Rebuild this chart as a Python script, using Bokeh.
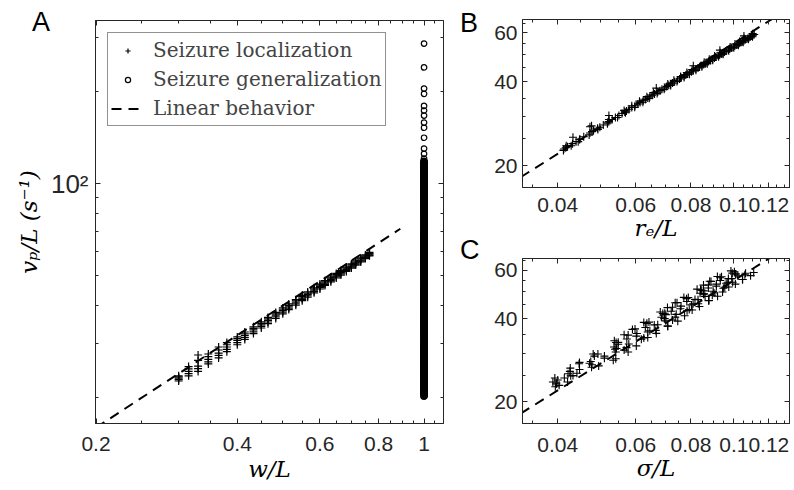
from bokeh.plotting import figure
from bokeh.layouts import row, column
from bokeh.models import (FixedTicker, PrintfTickFormatter, CustomJSTickFormatter,
                          LogAxis, Legend, LegendItem, Div)
from bokeh.embed import file_html
from bokeh.resources import INLINE

# ---------------- data ----------------
# Seizure localization: w/L, v_p/L, r_e/L, sigma/L (one entry per simulation)
loc_w = [0.300, 0.300, 0.300, 0.315, 0.315, 0.315, 0.330, 0.330, 0.330,
         0.347, 0.347, 0.347, 0.365, 0.365, 0.365, 0.380, 0.380, 0.380,
         0.400, 0.400, 0.400, 0.415, 0.415, 0.415, 0.433, 0.433, 0.433,
         0.450, 0.450, 0.450, 0.465, 0.465, 0.465, 0.483, 0.483, 0.483,
         0.500, 0.500, 0.500, 0.515, 0.515, 0.515, 0.533, 0.533, 0.533,
         0.550, 0.550, 0.550, 0.565, 0.565, 0.565, 0.583, 0.583, 0.583,
         0.600, 0.600, 0.600, 0.615, 0.615, 0.615, 0.633, 0.633, 0.633,
         0.650, 0.650, 0.650, 0.665, 0.665, 0.665, 0.683, 0.683, 0.683,
         0.700, 0.700, 0.700, 0.715, 0.715, 0.715, 0.733, 0.733, 0.733,
         0.750, 0.750, 0.750, 0.765, 0.765, 0.765,
         0.300, 0.315, 0.330, 0.347, 0.365, 0.380, 0.400, 0.415, 0.433, 0.450,
         0.465, 0.483, 0.500, 0.515, 0.533, 0.550, 0.565, 0.583, 0.600, 0.615,
         0.633, 0.650, 0.665, 0.683, 0.700, 0.715, 0.733, 0.750, 0.765,
         0.300, 0.315, 0.330, 0.347, 0.365, 0.380, 0.400, 0.415, 0.433, 0.450,
         0.465, 0.483, 0.500, 0.515, 0.533, 0.550, 0.565, 0.583, 0.600, 0.615,
         0.633, 0.650, 0.665, 0.683, 0.700, 0.715, 0.733, 0.750, 0.765]
loc_v = [22.7, 23.2, 23.6, 23.6, 24.4, 25.3, 24.4, 25.4, 27.6,
         25.8, 26.7, 27.8, 27.0, 28.0, 29.3, 28.3, 29.3, 30.3,
         29.8, 30.8, 31.6, 31.0, 31.9, 32.8, 32.4, 33.3, 34.1,
         33.8, 34.6, 35.4, 34.9, 35.8, 36.6, 36.3, 37.2, 38.0,
         37.6, 38.5, 39.3, 38.8, 39.6, 40.5, 40.1, 41.0, 41.8,
         41.5, 42.3, 43.2, 42.6, 43.5, 44.3, 44.0, 44.9, 45.7,
         45.3, 46.2, 47.0, 46.5, 47.3, 48.2, 47.8, 48.7, 49.5,
         49.2, 50.0, 50.9, 50.3, 51.2, 52.0, 51.7, 52.5, 53.4,
         53.0, 53.8, 54.7, 54.2, 55.0, 55.9, 55.5, 56.3, 57.2,
         56.9, 57.7, 58.5, 58.1, 58.8, 59.6,
         22.95, 24.0, 24.9, 26.2, 27.5, 28.8, 30.3, 31.45, 32.85, 34.2,
         35.35, 36.75, 38.05, 39.2, 40.55, 41.9, 43.05, 44.45, 45.75, 46.9,
         48.25, 49.6, 50.75, 52.1, 53.4, 54.6, 55.9, 57.3, 58.45,
         23.4, 24.85, 26.5, 27.25, 28.65, 29.8, 31.2, 32.35, 33.7, 35.0,
         36.2, 37.6, 38.9, 40.05, 41.4, 42.75, 43.9, 45.3, 46.6, 47.75,
         49.1, 50.45, 51.6, 52.95, 54.25, 55.45, 56.75, 58.1, 59.2]
loc_re = [0.0412, 0.0417, 0.0418, 0.0429, 0.0440, 0.0433, 0.0445, 0.0458, 0.0473,
          0.0471, 0.0482, 0.0477, 0.0493, 0.0507, 0.0522, 0.0518, 0.0531, 0.0522,
          0.0546, 0.0559, 0.0565, 0.0569, 0.0580, 0.0588, 0.0597, 0.0607, 0.0612,
          0.0623, 0.0631, 0.0636, 0.0644, 0.0654, 0.0658, 0.0671, 0.0681, 0.0668,
          0.0696, 0.0705, 0.0709, 0.0720, 0.0727, 0.0732, 0.0744, 0.0754, 0.0758,
          0.0772, 0.0779, 0.0783, 0.0794, 0.0802, 0.0805, 0.0821, 0.0830, 0.0810,
          0.0847, 0.0855, 0.0857, 0.0871, 0.0877, 0.0880, 0.0896, 0.0904, 0.0905,
          0.0924, 0.0929, 0.0932, 0.0946, 0.0953, 0.0930, 0.0974, 0.0979, 0.0981,
          0.1000, 0.1005, 0.1006, 0.1024, 0.1029, 0.1030, 0.1050, 0.1055, 0.1055,
          0.1079, 0.1083, 0.1054, 0.1102, 0.1105, 0.1103,
          0.0413, 0.0432, 0.0449, 0.0473, 0.0498, 0.0522, 0.0550, 0.0572, 0.0598,
          0.0624, 0.0646, 0.0673, 0.0698, 0.0720, 0.0746, 0.0772, 0.0794, 0.0821,
          0.0847, 0.0869, 0.0896, 0.0922, 0.0945, 0.0972, 0.0997, 0.1021, 0.1047,
          0.1075, 0.1098,
          0.0421, 0.0448, 0.0478, 0.0492, 0.0519, 0.0540, 0.0567, 0.0588, 0.0614,
          0.0639, 0.0662, 0.0688, 0.0713, 0.0735, 0.0761, 0.0787, 0.0810, 0.0837,
          0.0862, 0.0885, 0.0911, 0.0938, 0.0961, 0.0987, 0.1013, 0.1037, 0.1063,
          0.1090, 0.1112]
loc_sigma = [0.0395, 0.0397, 0.0390, 0.0421, 0.0394, 0.0422, 0.0414, 0.0442, 0.0472,
             0.0426, 0.0477, 0.0448, 0.0495, 0.0475, 0.0510, 0.0534, 0.0484, 0.0541,
             0.0481, 0.0565, 0.0536, 0.0539, 0.0602, 0.0542, 0.0579, 0.0537, 0.0626,
             0.0573, 0.0602, 0.0668, 0.0577, 0.0639, 0.0590, 0.0666, 0.0631, 0.0661,
             0.0709, 0.0636, 0.0702, 0.0626, 0.0727, 0.0686, 0.0697, 0.0774, 0.0691,
             0.0741, 0.0682, 0.0793, 0.0722, 0.0757, 0.0836, 0.0727, 0.0802, 0.0737,
             0.0831, 0.0783, 0.0817, 0.0877, 0.0782, 0.0861, 0.0771, 0.0894, 0.0839,
             0.0856, 0.0943, 0.0841, 0.0898, 0.0826, 0.0954, 0.0876, 0.0913, 0.1008,
             0.0876, 0.0961, 0.0882, 0.0994, 0.0932, 0.0972, 0.1047, 0.0931, 0.1021,
             0.0918, 0.1059, 0.0992, 0.1010, 0.1109, 0.0985,
             0.0403, 0.0400, 0.0433, 0.0448, 0.0447, 0.0510, 0.0577, 0.0572, 0.0548,
             0.0639, 0.0604, 0.0598, 0.0673, 0.0747, 0.0737, 0.0698, 0.0805, 0.0760,
             0.0744, 0.0830, 0.0919, 0.0902, 0.0846, 0.0974, 0.0913, 0.0888, 0.0989,
             0.1091, 0.1063,
             0.0397, 0.0428, 0.0427, 0.0478, 0.0541, 0.0493, 0.0543, 0.0548, 0.0618,
             0.0565, 0.0646, 0.0709, 0.0643, 0.0697, 0.0702, 0.0784, 0.0708, 0.0809,
             0.0879, 0.0789, 0.0854, 0.0855, 0.0947, 0.0854, 0.0969, 0.1046, 0.0938,
             0.1010, 0.1003]

# Seizure generalization: all at w/L = 1 (dense band and sparse upper tail)
gen_v_dense = [20.3, 20.55, 20.8, 21.05, 21.3, 21.55, 21.8, 22.05, 22.3, 22.55, 22.8,
               23.05, 23.3, 23.55, 23.8, 24.05, 24.3, 24.55, 24.8, 25.05, 25.3, 25.55,
               25.8, 26.05, 26.3, 26.55, 26.8, 27.05, 27.3, 27.55, 27.8, 28.05, 28.3,
               28.55, 28.8, 29.05, 29.3, 29.55, 29.8,
               30.1, 30.5, 30.9, 31.3, 31.7, 32.1, 32.5, 32.9, 33.3, 33.7, 34.1, 34.5,
               34.9, 35.3, 35.7, 36.1, 36.5, 36.9, 37.3, 37.7, 38.1, 38.5, 38.9, 39.3,
               39.7, 40.1, 40.5, 40.9, 41.3, 41.7, 42.1, 42.5, 42.9, 43.3, 43.7, 44.1,
               44.5, 44.9,
               45.4, 46.0, 46.6, 47.2, 47.8, 48.4, 49.0, 49.6, 50.2, 50.8, 51.4, 52.0,
               52.6, 53.2, 53.8, 54.4, 55.0, 55.6, 56.2, 56.8, 57.4, 58.0, 58.6, 59.2,
               59.8, 60.4, 61.0, 61.6, 62.2, 62.8, 63.4, 64.0, 64.6, 65.2, 65.8, 66.4,
               67.0, 67.6, 68.2, 68.8, 69.4, 70.0,
               71, 72, 73, 74, 75, 76, 77, 78, 79, 80, 81, 82, 83, 84, 85, 86, 87, 88,
               89, 90, 91, 92, 93, 94, 95, 96, 97, 98, 99, 100, 101, 102, 103, 104,
               105, 106, 107, 108, 109, 110, 111, 112, 113, 114, 115, 116, 117, 118]
gen_v_sparse = [120.6, 125, 130, 141, 152, 158, 166.5, 173, 179, 196, 204, 239, 286]
gen_w_dense = [1.0] * len(gen_v_dense)
gen_w_sparse = [1.0] * len(gen_v_sparse)

# Linear behaviour (dashed reference lines)
lin_a_w = [0.2, 0.89]
lin_a_v = [16.0, 71.2]
lin_b_re = [0.033, 0.125]
lin_b_v = [18.2, 68.9]
lin_c_sigma = [0.033, 0.125]
lin_c_v = [18.15, 68.75]

# ticks
a_xticks = [0.2, 0.4, 0.6, 0.8, 1.0]
a_xminor = [0.25, 0.3, 0.35, 0.45, 0.5, 0.55, 0.65, 0.7, 0.75, 0.85, 0.9, 0.95, 1.05]
a_yticks = [100]
a_yminor = [20, 30, 40, 50, 60, 70, 80, 90, 200, 300]
bc_xticks = [0.04, 0.06, 0.08, 0.1, 0.12]
bc_xminor = [0.035, 0.045, 0.05, 0.055, 0.065, 0.07, 0.075, 0.085, 0.09, 0.095,
             0.105, 0.11, 0.115, 0.125, 0.13]
bc_yticks = [20, 40, 60]
bc_yminor = [25, 30, 35, 45, 50, 55, 65]

legend_labels = ["Seizure localization", "Seizure generalization", "Linear behavior"]
panel_letters = ["A", "B", "C"]

# ---------------- styling helpers ----------------
AX = "#262626"
SANS = "Liberation Sans"
SERIF = "DejaVu Serif"
DASH = "10 7"


def style_axis(ax, standoff, label_standoff, size="21px"):
    ax.axis_line_color = AX
    ax.axis_line_width = 1
    ax.major_tick_line_color = AX
    ax.minor_tick_line_color = AX
    ax.major_tick_in = 5
    ax.major_tick_out = 0
    ax.minor_tick_in = 3
    ax.minor_tick_out = 0
    ax.major_label_text_font = SANS
    ax.major_label_text_font_size = size
    ax.major_label_text_color = AX
    ax.major_label_standoff = standoff
    ax.axis_label_text_font = SERIF
    ax.axis_label_text_font_style = "italic"
    ax.axis_label_text_font_size = "23px"
    ax.axis_label_text_color = "black"
    ax.axis_label_standoff = label_standoff


def mirror(p, xt, yt):
    for side, ticker in (("above", xt), ("right", yt)):
        ax = LogAxis(ticker=ticker, formatter=CustomJSTickFormatter(code="return ''"))
        style_axis(ax, 0, 0)
        ax.major_label_text_font_size = "0px"
        p.add_layout(ax, side)


def base(p):
    p.xgrid.visible = False
    p.ygrid.visible = False
    p.outline_line_color = AX
    p.outline_line_width = 1
    p.background_fill_color = "white"
    p.border_fill_color = "white"


# ---------------- panel A ----------------
pA = figure(width=455, height=490, x_axis_type="log", y_axis_type="log",
            x_range=(0.1995, 1.1), y_range=(16.5, 340),
            output_backend="svg", toolbar_location=None,
            min_border_left=95, min_border_right=12, min_border_top=20,
            min_border_bottom=67)
base(pA)
axt = FixedTicker(ticks=a_xticks, minor_ticks=a_xminor)
ayt = FixedTicker(ticks=a_yticks, minor_ticks=a_yminor)
pA.xaxis.ticker = axt
pA.yaxis.ticker = ayt
pA.xaxis.formatter = PrintfTickFormatter(format="%g")
pA.yaxis.major_label_overrides = {100: "10\u00b2"}
for ax in pA.xaxis:
    style_axis(ax, 13, 2)
for ax in pA.yaxis:
    style_axis(ax, 7, 6, size="26px")
pA.xaxis.axis_label = "w/L"
pA.yaxis.axis_label = "v\u209a/L (s\u207b\u00b9)"
mirror(pA, axt, ayt)

lineA = pA.line(lin_a_w, lin_a_v, line_color="black", line_width=2, line_dash=DASH)
pA.scatter(gen_w_dense, gen_v_dense, marker="circle", size=6, fill_color=None,
           line_color="black", line_width=2)
circA = pA.scatter(gen_w_sparse, gen_v_sparse, marker="circle", size=5.5,
                   fill_color=None, line_color="black", line_width=1.2)
plusA = pA.scatter(loc_w, loc_v, marker="cross", size=8, line_color="black",
                   line_width=1.2)

legend = Legend(items=[LegendItem(label=legend_labels[0], renderers=[plusA], index=0),
                       LegendItem(label=legend_labels[1], renderers=[circA], index=0),
                       LegendItem(label=legend_labels[2], renderers=[lineA])],
                location="top_left", margin=12, padding=3, spacing=1,
                label_height=28, glyph_height=13, glyph_width=33, label_standoff=9,
                label_text_font=SERIF, label_text_font_size="20px",
                border_line_color=AX, border_line_width=1,
                background_fill_color="white", background_fill_alpha=1)
pA.add_layout(legend)


# ---------------- panels B and C ----------------
def small_panel(height, yr, top, bottom, xs, line_x, line_v, xlabel, standoff):
    p = figure(width=339, height=height, x_axis_type="log", y_axis_type="log",
               x_range=(0.0333, 0.1336), y_range=yr,
               output_backend="svg", toolbar_location=None,
               min_border_left=67, min_border_right=5, min_border_top=top,
               min_border_bottom=bottom)
    base(p)
    xt = FixedTicker(ticks=bc_xticks, minor_ticks=bc_xminor)
    yt = FixedTicker(ticks=bc_yticks, minor_ticks=bc_yminor)
    p.xaxis.ticker = xt
    p.yaxis.ticker = yt
    p.xaxis.formatter = PrintfTickFormatter(format="%g")
    p.yaxis.formatter = PrintfTickFormatter(format="%g")
    for ax in p.xaxis:
        style_axis(ax, standoff, 0)
    for ax in p.yaxis:
        style_axis(ax, 5, 0)
    p.xaxis.axis_label = xlabel
    mirror(p, xt, yt)
    p.line(line_x, line_v, line_color="black", line_width=2, line_dash=DASH)
    p.scatter(xs, loc_v, marker="cross", size=8, line_color="black", line_width=1.1)
    return p


pB = small_panel(249, (16.7, 67.0), 19, 62, loc_re, lin_b_re, lin_b_v, "r\u2091/L", 10)
pC = small_panel(241, (16.7, 66.1), 9, 67, loc_sigma, lin_c_sigma, lin_c_v,
                 "\u03c3/L", 14)

# panel letters as an HTML overlay (annotations inside a plot are clipped to its frame)
span = '<span style="position:absolute;left:{}px;top:{}px">{}</span>'
letters_html = (
    '<div style="position:relative;width:794px;height:490px;'
    'font-family:\'Liberation Sans\',sans-serif;font-size:27px;line-height:1;color:#000">'
    + span.format(27, 4, panel_letters[0])
    + span.format(455, 5, panel_letters[1])
    + span.format(455, 232, panel_letters[2])
    + '</div>')
letters = Div(text=letters_html, width=794, height=490,
              styles={"position": "absolute", "left": "0px", "top": "0px",
                      "pointer-events": "none", "z-index": "10"})

layout = column(row(pA, column(pB, pC)), letters)
open("out.html", "w").write(file_html(layout, INLINE))
